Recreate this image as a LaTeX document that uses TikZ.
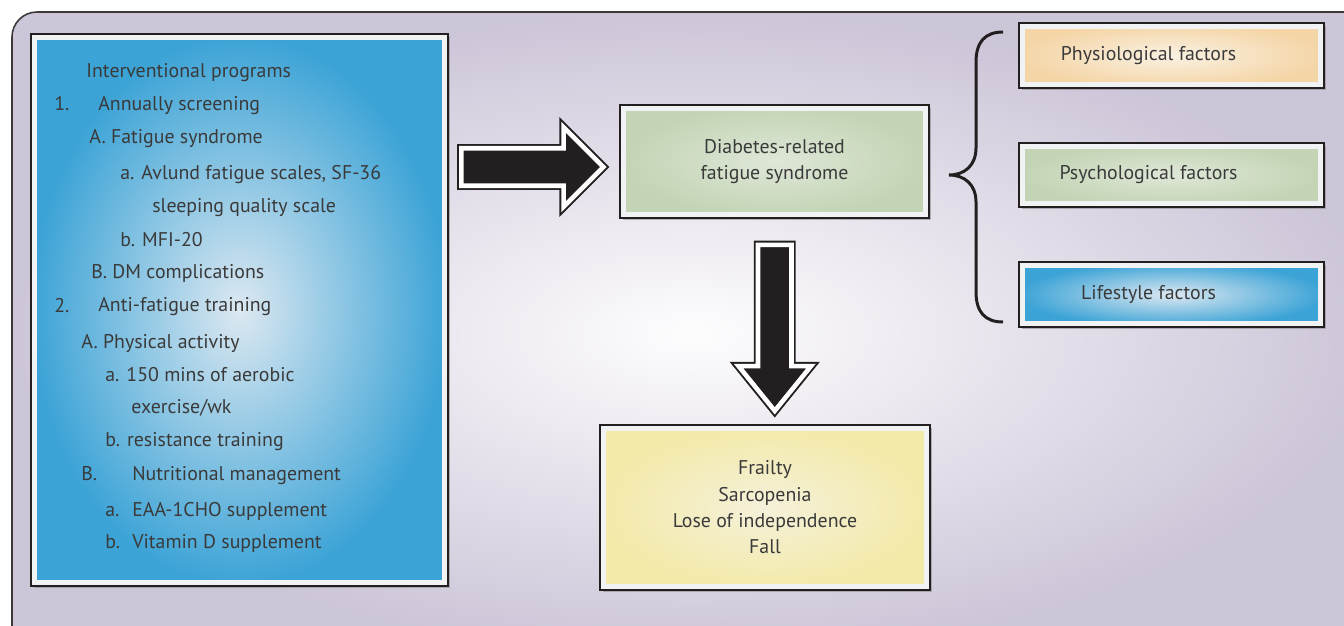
\documentclass[tikz,border=0pt]{standalone}
\usepackage{fontspec}
\setmainfont{PT Sans}
\usetikzlibrary{shapes.arrows, positioning, calc, shadows}
\definecolor{framebg}{HTML}{CDC5D8}
\definecolor{frameline}{HTML}{3A3A3A}
\definecolor{boxline}{HTML}{231F20}
\definecolor{boxmargin}{HTML}{F1F2F4}
\definecolor{txtgray}{HTML}{3A3A3A}
\definecolor{progblue}{HTML}{3BA3D6}
\definecolor{progpale}{HTML}{DCE8F1}
\definecolor{sagegreen}{HTML}{C2D4B3}
\definecolor{sagepale}{HTML}{DFE7D8}
\definecolor{sandorange}{HTML}{F4D5A6}
\definecolor{sandpale}{HTML}{FAF1E2}
\definecolor{paleyellow}{HTML}{F3E9A8}
\definecolor{yellowpale}{HTML}{F5F1DA}

\begin{document}
\begin{tikzpicture}[
    x=0.02cm, y=-0.02cm,
    font=\fontsize{11.3}{15}\selectfont, text=txtgray,
    framed/.style 2 args={rectangle, draw=boxline, line width=1.1pt, fill=boxmargin, inner sep=0pt,
        drop shadow={shadow xshift=0.05cm, shadow yshift=-0.05cm, fill=black!45, opacity=0.6},
        path picture={\shade[inner color=#2, outer color=#1]
            ([xshift=0.12cm, yshift=0.12cm]path picture bounding box.south west) rectangle
            ([xshift=-0.12cm, yshift=-0.12cm]path picture bounding box.north east);}},
    item/.style={anchor=west, inner sep=0pt, text height=1.6ex, text depth=0.4ex},
    blockarr/.style={single arrow, single arrow head indent=0pt, inner xsep=0pt,
        fill=boxline, draw=boxline, line width=1.1pt, double=white, double distance=2.6pt,
        drop shadow={shadow xshift=0.04cm, shadow yshift=-0.04cm, fill=black!40, opacity=0.6}},
]
\useasboundingbox (0,0) rectangle (1344,625);
\fill[white] (0,0) rectangle (1344,625);
\begin{scope}
    \clip (0,0) rectangle (1344,625);
    \path[draw=frameline, line width=0.9pt, rounded corners=0.5cm, shade,
        inner color=white!96!framebg, outer color=framebg] (12,12) rectangle (1375,655);
\end{scope}

% left: programs
\node[framed={progblue}{progpale}, minimum width=8.34cm, minimum height=11.04cm] (prog) at (239.5,310) {};
\foreach \px/\py/\txt [count=\i] in {
    86/72/{Interventional programs},
    54/105/{1.}, 98/105/{Annually screening},
    89/138/{A. Fatigue syndrome},
    120/174/{a. Avlund fatigue scales, SF-36},
    152/207/{sleeping quality scale},
    120/241/{b. MFI-20},
    91/273/{B. DM complications},
    54/307/{2.}, 98/306/{Anti-fatigue training},
    81/343/{A. Physical activity},
    105/376/{a. 150 mins of aerobic},
    131/408/{exercise/wk},
    105/441/{b. resistance training},
    81/475/{B.}, 132/475/{Nutritional management},
    105/511/{a.}, 132/511/{EAA-1CHO supplement},
    105/543/{b.}, 132/543/{Vitamin D supplement}}
    \node[item] (item\i) at (\px,\py) {\txt};

% middle
\node[framed={sagegreen}{sagepale}, minimum width=6.18cm, minimum height=2.26cm, align=center] (dfs) at (774.5,161.5) {Diabetes-related\\fatigue syndrome};
\node[framed={paleyellow}{yellowpale}, minimum width=6.6cm, minimum height=3.3cm, align=center] (out) at (765,507.5) {Frailty\\Sarcopenia\\Lose of independence\\Fall};

% right: factors
\node[framed={sandorange}{sandpale}, minimum width=6.1cm, minimum height=1.3cm,
    label={[xshift=-0.46cm]center:Physiological factors}] (phys) at (1171.5,55.5) {};
\node[framed={sagegreen}{sagepale}, minimum width=6.1cm, minimum height=1.28cm,
    label={[xshift=-0.46cm]center:Psychological factors}] (psych) at (1171.5,175) {};
\node[framed={progblue}{progpale}, minimum width=6.1cm, minimum height=1.3cm,
    label={[xshift=-0.46cm]center:Lifestyle factors}] (life) at (1171.5,294.5) {};

% block arrows
\node[blockarr, inner ysep=0.356cm, minimum height=2.84cm, minimum width=1.55cm, single arrow head extend=0.42cm]
    (rarr) at ($($(prog.east |- dfs.west)!0.5!(dfs.west)$)+(-11,5.5)$) {};
\node[blockarr, rotate=-90, inner ysep=0.316cm, minimum height=3.32cm, minimum width=1.41cm,
    single arrow head extend=0.39cm, single arrow tip angle=78]
    (darr) at ($($(dfs.south)!0.5!(out.north)$)+(5,-4)$) {};

% brace
\draw[boxline, line width=1.7pt] (1003,32) .. controls (985,32) and (976,42) .. (976,62) -- (976,148)
    .. controls (976,165) and (965,175) .. (949,175) .. controls (965,175) and (976,185) .. (976,202)
    -- (976,292) .. controls (976,312) and (985,322) .. (1003,322);
\end{tikzpicture}
\end{document}
